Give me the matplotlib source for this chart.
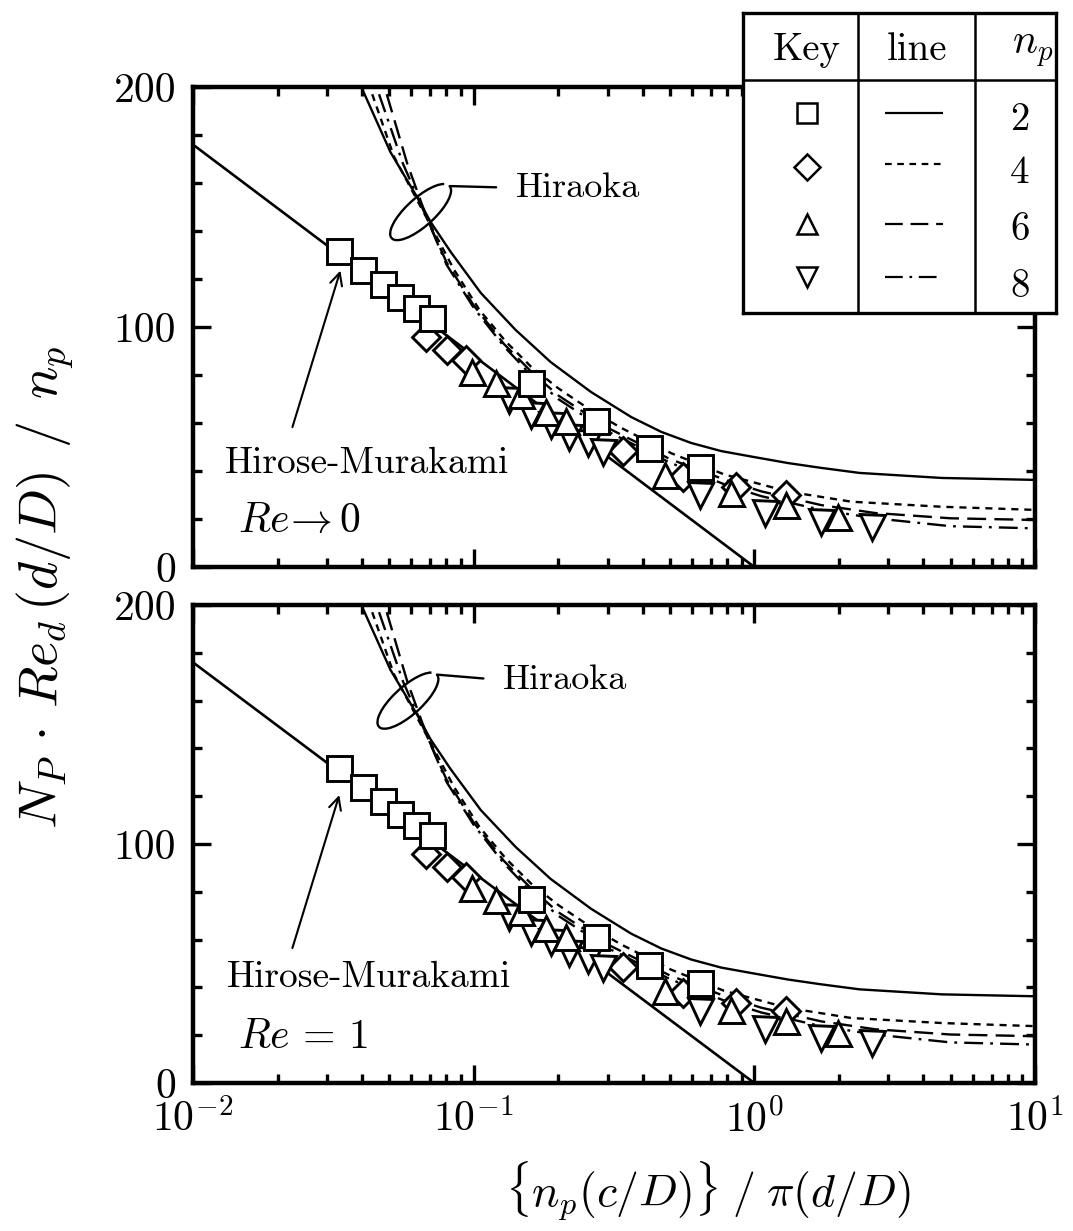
import matplotlib
matplotlib.use('Agg')
import matplotlib.pyplot as plt
from matplotlib import transforms
from matplotlib.patches import Arc
from matplotlib.ticker import MultipleLocator, LogLocator, NullFormatter

plt.rcParams['font.family'] = 'serif'
plt.rcParams['font.serif'] = ['cmr10']
plt.rcParams['mathtext.fontset'] = 'cm'
plt.rcParams['axes.unicode_minus'] = False
plt.rcParams['axes.formatter.use_mathtext'] = True

# Hirose-Murakami line (straight in semi-log)
hm_x = [0.01, 1.0]
hm_y = [176, 0]

# experimental points, n_p = 2, 4, 6, 8
sq_x = [0.0332, 0.0404, 0.0477, 0.0548, 0.0625, 0.0708, 0.160, 0.272, 0.423, 0.638]
sq_y = [131.7, 123.8, 117.9, 112.5, 107.9, 103.7, 76.8, 61.0, 49.4, 41.8]
di_x = [0.0674, 0.0805, 0.0936, 0.34, 0.556, 0.863, 1.30]
di_y = [96.0, 90.4, 86.2, 48.5, 37.6, 33.5, 30.0]
tu_x = [0.0989, 0.120, 0.147, 0.181, 0.213, 0.479, 0.828, 1.30, 1.99]
tu_y = [81.4, 76.6, 71.7, 64.7, 61.0, 38.3, 30.7, 25.8, 21.0]
td_x = [0.134, 0.160, 0.188, 0.219, 0.255, 0.288, 0.638, 1.09, 1.73, 2.62]
td_y = [69.6, 63.3, 59.2, 54.3, 51.5, 48.0, 30.0, 22.4, 18.9, 16.8]

# Hiraoka correlation curves
h2_x = [0.0402, 0.0505, 0.0631, 0.0702, 0.0828, 0.106, 0.141, 0.188, 0.262, 0.364,
        0.466, 0.595, 0.762, 1.0, 1.32, 1.73, 2.37, 4.66, 10]
h2_y = [198.8, 172.9, 153.8, 143.8, 131.3, 114.2, 98.8, 85.4, 72.9, 62.5,
        56.3, 51.7, 48.3, 45.8, 43.3, 41.3, 39.2, 37.1, 36.3]
h4_x = [0.0435, 0.052, 0.0683, 0.085, 0.105, 0.13, 0.16, 0.2, 0.26, 0.335, 0.506, 0.78, 1.32, 2.22, 4.66, 10]
h4_y = [197, 171, 145, 124, 107, 94, 83.5, 74.5, 65.5, 58, 47.4, 38.6, 31.4, 27.2, 25.1, 23.8]
h6_x = [0.049, 0.058, 0.0683, 0.08, 0.1, 0.128, 0.16, 0.2, 0.3, 0.5, 0.8, 1.06, 1.73, 2.69, 5, 10]
h6_y = [197, 168, 145, 127, 109, 93, 81.5, 71.5, 58, 45, 36, 31.5, 25.8, 22.5, 20.3, 19.6]
h8_x = [0.046, 0.056, 0.0683, 0.08, 0.1, 0.128, 0.16, 0.2, 0.3, 0.5, 0.8, 1.06, 1.73, 2.69, 5, 10]
h8_y = [197, 168, 145, 126, 108, 92, 80, 70, 56.5, 43.5, 34, 29.5, 23.8, 20.3, 17, 16.1]

np_labels = ['2', '4', '6', '8']
x_ticks = [1e-2, 1e-1, 1e0, 1e1]
x_ticklabels = [r'$10^{-2}$', r'$10^{-1}$', r'$10^{0}$', r'$10^{1}$']
y_ticks = [0, 100, 200]

styles = [(0, ()), (0, (3, 2.5)), (0, (8, 3.5)), (0, (8, 3, 1.2, 3))]
mk = [('s', 18), ('D', 14), ('^', 18), ('v', 18)]

fig = plt.figure(figsize=(10.73, 12.31), dpi=100)
ax1 = fig.add_axes([0.1799, 0.5394, 0.7847, 0.3899])
ax2 = fig.add_axes([0.1799, 0.1202, 0.7847, 0.3883])


def draw_panel(ax, re_text, ell_c, txt_pos, hm_pos, hm_tail, hm_tip, show_xlabels):
    ax.set_xscale('log')
    ax.set_xlim(1e-2, 1e1)
    ax.set_ylim(0, 200)

    ax.plot(hm_x, hm_y, color='k', lw=1.9, zorder=2)
    for (cx, cy), ls in zip([(h2_x, h2_y), (h4_x, h4_y), (h6_x, h6_y), (h8_x, h8_y)], styles):
        ax.plot(cx, cy, color='k', lw=1.7, linestyle=ls, zorder=2)

    for (px, py), (m, ms) in zip([(di_x, di_y), (td_x, td_y), (tu_x, tu_y), (sq_x, sq_y)],
                                 [mk[1], mk[3], mk[2], mk[0]]):
        ax.plot(px, py, linestyle='none', marker=m, markersize=ms, mfc='white',
                mec='k', mew=2.1, zorder=3)

    # ellipse tag around the Hiraoka curves
    tr = fig.dpi_scale_trans + transforms.ScaledTranslation(ell_c[0], ell_c[1], ax.transData)
    ax.add_patch(Arc((0, 0), 0.78, 0.28, angle=42, theta1=8, theta2=360,
                     transform=tr, color='k', lw=1.7, zorder=4))
    ax.annotate('Hiraoka', xy=(0.29, 0.26), xycoords=tr, xytext=txt_pos,
                textcoords='data', ha='left', va='center', fontsize=26,
                arrowprops=dict(arrowstyle='-', lw=1.7, relpos=(0, 0.5),
                                shrinkA=12, shrinkB=0))

    ax.text(hm_pos[0], hm_pos[1], 'Hirose-Murakami', ha='left', va='center', fontsize=27)
    ax.annotate('', xy=hm_tip, xytext=hm_tail,
                arrowprops=dict(arrowstyle='->', lw=1.5, shrinkA=0, shrinkB=0,
                                mutation_scale=22))
    ax.text(0.0145, 19, re_text, ha='left', va='center', fontsize=30)

    ax.set_yticks(y_ticks)
    ax.set_yticklabels([str(v) for v in y_ticks])
    ax.yaxis.set_minor_locator(MultipleLocator(20))
    ax.set_xticks(x_ticks)
    ax.xaxis.set_minor_locator(LogLocator(base=10, subs=range(2, 10)))
    ax.xaxis.set_minor_formatter(NullFormatter())
    if show_xlabels:
        ax.set_xticklabels(x_ticklabels)
    else:
        ax.set_xticklabels([])
    ax.tick_params(which='both', direction='in', top=True, right=True, width=2.4)
    ax.tick_params(which='major', length=13, labelsize=30, pad=12)
    ax.tick_params(which='minor', length=6.5)
    for s in ax.spines.values():
        s.set_linewidth(3.2)


draw_panel(ax1, r'$Re\!\rightarrow 0$', (0.0647, 147.9), (0.141, 158),
           (0.013, 43.3), (0.0226, 58.3), (0.0335, 123.5), False)
draw_panel(ax2, r'$Re\,=\,1$', (0.0583, 160), (0.127, 168.6),
           (0.0132, 44), (0.0226, 56.5), (0.0332, 120.5), True)

fig.text(0.042, 0.523, r'$N_P\,\cdot\,Re_d\,(d/D)\;\,/\;\,n_p$', rotation=90,
         ha='center', va='center', fontsize=39)
fig.text(0.66, 0.033, r'$\{n_p(c/D)\}\;/\;\pi(d/D)$', ha='center', va='center', fontsize=33)

# key table drawn on top of the upper panel
lg = fig.add_axes([0.6925, 0.7457, 0.2917, 0.2437])
lg.set_zorder(10)
lg.set_facecolor('white')
lg.set_xlim(0, 1)
lg.set_ylim(0, 1)
lg.set_xticks([])
lg.set_yticks([])
for s in lg.spines.values():
    s.set_linewidth(2.4)
lg.axvline(0.367, color='k', lw=1.8)
lg.axvline(0.741, color='k', lw=1.8)
lg.axhline(0.777, color='k', lw=1.8)
lg.text(0.204, 0.877, 'Key', ha='center', va='center', fontsize=28)
lg.text(0.555, 0.877, 'line', ha='center', va='center', fontsize=28)
lg.text(0.925, 0.877, r'$n_p$', ha='center', va='center', fontsize=30)

row_y = [0.667, 0.487, 0.297, 0.12]
num_y = [0.643, 0.467, 0.277, 0.087]
key_ms = [14, 13, 15, 15]
for i in range(4):
    lg.plot([0.204], [row_y[i]], marker=mk[i][0], markersize=key_ms[i],
            mfc='white', mec='k', mew=1.8, linestyle='none')
    lg.plot([0.454, 0.639], [row_y[i] + (0.0 if i != 1 else 0.01)] * 2, color='k', lw=1.6,
            linestyle=styles[i])
    lg.text(0.885, num_y[i], np_labels[i], ha='center', va='center', fontsize=28)

fig.savefig('out.png', dpi=100)
